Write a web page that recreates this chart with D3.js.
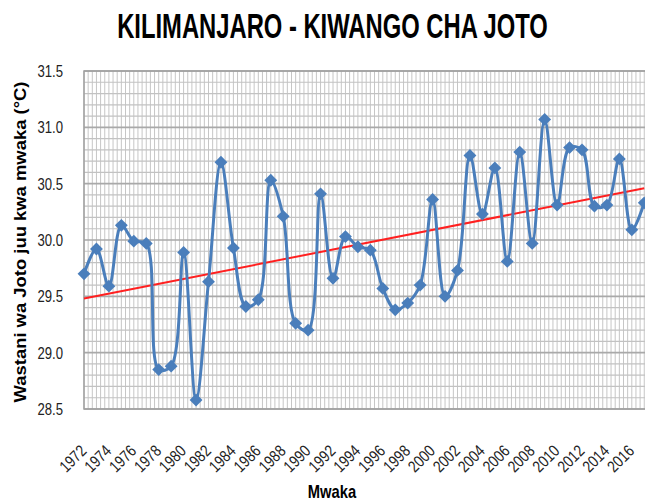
<!DOCTYPE html>
<html>
<head>
<meta charset="utf-8">
<script src="https://cdn.jsdelivr.net/npm/d3@7"></script>
<style>
  body { margin: 0; background: #fff; }
  svg { display: block; font-family: "Liberation Sans", Arial, sans-serif; }
</style>
</head>
<body>
<svg id="chart" width="645" height="502"></svg>
<script>
// data
var years = d3.range(1972, 2018);
var temps = [29.70, 29.92, 29.59, 30.13, 29.99, 29.97, 28.85, 28.88, 29.89, 28.58,
             29.63, 30.69, 29.93, 29.41, 29.47, 30.53, 30.21, 29.26, 29.20, 30.41,
             29.66, 30.03, 29.94, 29.91, 29.57, 29.38, 29.44, 29.60, 30.36, 29.50,
             29.73, 30.75, 30.23, 30.64, 29.81, 30.78, 29.97, 31.07, 30.31, 30.82,
             30.80, 30.30, 30.31, 30.72, 30.09, 30.33];
var trendYears = [1972, 2017];
var trendValues = [29.48, 30.46];
var xTickYears = d3.range(1972, 2017, 2);
var yTicks = [28.5, 29.0, 29.5, 30.0, 30.5, 31.0, 31.5];

var data = years.map(function (y, i) { return { year: y, temp: temps[i] }; });

var margin = { top: 71, left: 84 };
var plotH = 338;
var plotRight = 660;
var narrow = 0.82; // no Arial Narrow here, so squeeze Liberation Sans

var svg = d3.select("#chart");

var x = d3.scaleLinear().domain([1972, 2017]).range([margin.left, margin.left + 45 * 12.45]);
var y = d3.scaleLinear().domain([28.5, 31.5]).range([margin.top + plotH, margin.top]);

// GRID

var grid = svg.append("g");

grid.selectAll("line.v")
    .data(d3.range(0, 150))
    .enter().append("line")
    .attr("x1", function (d) { return x(1972 + d / 3); })
    .attr("x2", function (d) { return x(1972 + d / 3); })
    .attr("y1", y(31.5))
    .attr("y2", y(28.5))
    .attr("stroke", "#c6c6c6")
    .attr("stroke-width", 1);

grid.selectAll("line.h")
    .data(d3.range(0, 31))
    .enter().append("line")
    .attr("x1", margin.left)
    .attr("x2", plotRight)
    .attr("y1", function (d) { return y(28.5 + d / 10); })
    .attr("y2", function (d) { return y(28.5 + d / 10); })
    .attr("stroke", function (d) { return d % 5 === 0 ? "#a9a9a9" : "#c2c2c2"; })
    .attr("stroke-width", function (d) { return d % 5 === 0 ? 1.6 : 1.2; });

// plot border
svg.append("path")
    .attr("d", "M" + plotRight + "," + y(31.5) + "H" + margin.left + "V" + y(28.5) + "H" + plotRight)
    .attr("fill", "none")
    .attr("stroke", "#a0a0a0")
    .attr("stroke-width", 1.5);

// AXES

var yAxis = svg.append("g")
    .attr("transform", "translate(" + (margin.left - 21) + ",0)")
    .call(d3.axisLeft(y).tickValues(yTicks).tickSize(0).tickPadding(0).tickFormat(d3.format(".1f")));
yAxis.select(".domain").remove();
yAxis.selectAll("text")
    .attr("font-size", 16)
    .attr("fill", "#222")
    .attr("x", 0)
    .attr("dy", "0.35em")
    .attr("transform", "scale(" + narrow + ",1)");

var xAxis = svg.append("g")
    .attr("transform", "translate(0," + (margin.top + plotH) + ")")
    .call(d3.axisBottom(x).tickValues(xTickYears).tickSize(0).tickFormat(d3.format("d")));
xAxis.select(".domain").remove();
xAxis.selectAll("text")
    .attr("font-size", 16.5)
    .attr("fill", "#222")
    .attr("text-anchor", "end")
    .attr("dy", 0)
    .attr("y", 0)
    .attr("transform", "translate(3,43) rotate(-45) scale(" + narrow + ",1)");

// TREND + SERIES

svg.append("line")
    .attr("x1", x(trendYears[0])).attr("y1", y(trendValues[0]))
    .attr("x2", x(trendYears[1])).attr("y2", y(trendValues[1]))
    .attr("stroke", "#ff2020")
    .attr("stroke-width", 2);

svg.append("path")
    .datum(data)
    .attr("fill", "none")
    .attr("stroke", "#4a7ebb")
    .attr("stroke-width", 3)
    .attr("d", d3.line()
        .x(function (d) { return x(d.year); })
        .y(function (d) { return y(d.temp); })
        .curve(d3.curveCatmullRom.alpha(0.5)));

svg.selectAll("path.marker")
    .data(data)
    .enter().append("path")
    .attr("class", "marker")
    .attr("d", d3.symbol().type(d3.symbolDiamond2).size(105))
    .attr("transform", function (d) { return "translate(" + x(d.year) + "," + y(d.temp) + ")"; })
    .attr("fill", "#4a7ebb");

// TITLES (squeezed to the width they take in the reference)

function squeezed(cx, cy, rot, width, size, label) {
    var t = svg.append("text")
        .attr("text-anchor", "middle")
        .attr("font-size", size)
        .attr("font-weight", "bold")
        .text(label);
    var sx = width / t.node().getComputedTextLength();
    t.attr("transform", "translate(" + cx + "," + cy + ") rotate(" + rot + ") scale(" + sx + ",1)");
    return t;
}

squeezed(332.5, 38, 0, 431, 35, "KILIMANJARO - KIWANGO CHA JOTO");
squeezed(26, 242, -90, 321, 17, "Wastani wa Joto juu kwa mwaka (°C)");

svg.append("text")
    .attr("transform", "translate(332,498) scale(" + narrow + ",1)")
    .attr("text-anchor", "middle")
    .attr("font-size", 18)
    .attr("font-weight", "bold")
    .text("Mwaka");
</script>
</body>
</html>
